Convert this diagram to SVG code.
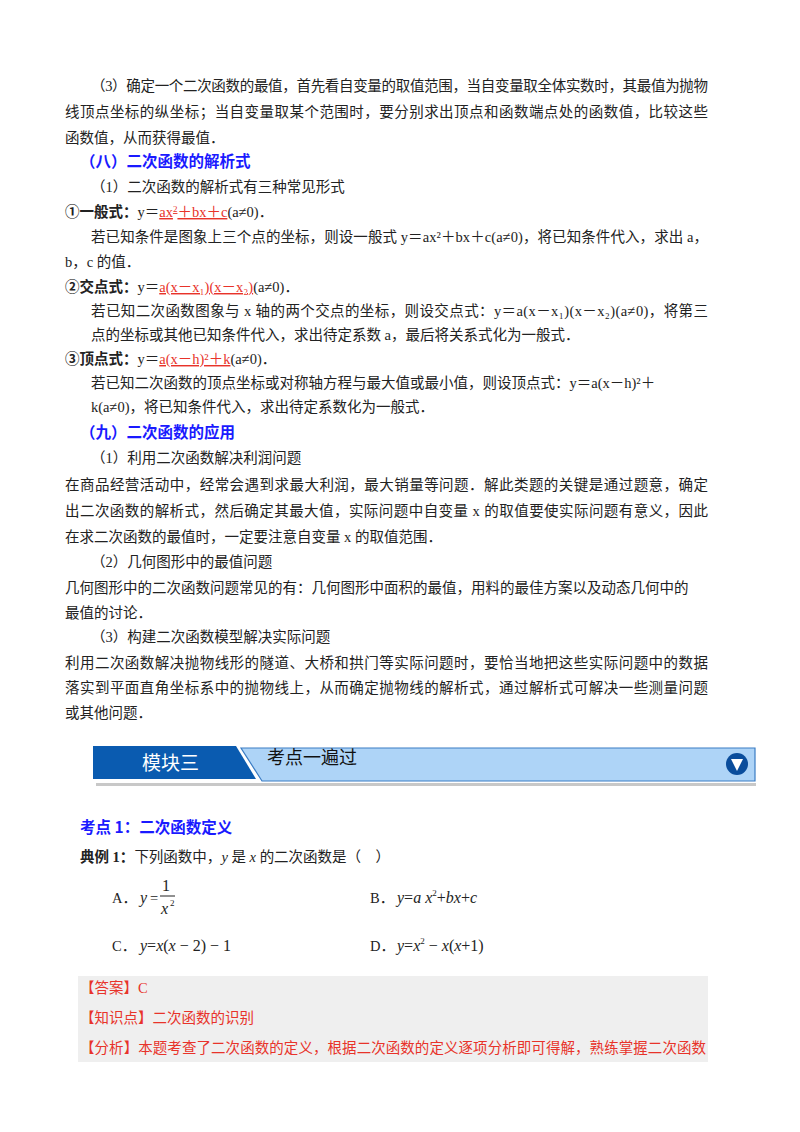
<svg xmlns="http://www.w3.org/2000/svg" width="800" height="1132" viewBox="0 0 800 1132">
<style>
text{font-family:"Liberation Serif","Noto Sans CJK SC",serif;font-size:14.5px;fill:#222}
.h{fill:#1a1aff;font-weight:bold;font-size:15.5px;font-family:"Noto Sans CJK SC",sans-serif}
.b{font-weight:bold}
.r{fill:#e8332a}
.m{font-family:"Liberation Serif",serif;font-style:italic;font-size:16px}
.u{text-decoration:underline}
</style>
<rect width="800" height="1132" fill="#fff"/>
<g id="text-top">
<text x="91" y="91" textLength="617" lengthAdjust="spacing">（3）确定一个二次函数的最值，首先看自变量的取值范围，当自变量取全体实数时，其最值为抛物</text>
<text x="65" y="117" textLength="643" lengthAdjust="spacing">线顶点坐标的纵坐标；当自变量取某个范围时，要分别求出顶点和函数端点处的函数值，比较这些</text>
<text x="65" y="143">函数值，从而获得最值．</text>
<text class="h" x="80" y="167">（八）二次函数的解析式</text>
<text x="91" y="192">（1）二次函数的解析式有三种常见形式</text>
<text x="65" y="217"><tspan class="b">①一般式：</tspan>y＝<tspan class="r u">ax<tspan dy="-5" font-size="9">2</tspan><tspan dy="5">＋bx＋c</tspan></tspan>(a≠0)．</text>
<text x="91" y="242" textLength="617" lengthAdjust="spacing">若已知条件是图象上三个点的坐标，则设一般式 y＝ax²＋bx＋c(a≠0)，将已知条件代入，求出 a，</text>
<text x="65" y="267">b，c 的值．</text>
<text x="65" y="292"><tspan class="b">②交点式：</tspan>y＝<tspan class="r u">a(x－x₁)(x－x₂)</tspan>(a≠0)．</text>
<text x="91" y="316" textLength="617" lengthAdjust="spacing">若已知二次函数图象与 x 轴的两个交点的坐标，则设交点式：y＝a(x－x₁)(x－x₂)(a≠0)，将第三</text>
<text x="91" y="340">点的坐标或其他已知条件代入，求出待定系数 a，最后将关系式化为一般式．</text>
<text x="65" y="364"><tspan class="b">③顶点式：</tspan>y＝<tspan class="r u">a(x－h)²＋k</tspan>(a≠0)．</text>
<text x="91" y="388">若已知二次函数的顶点坐标或对称轴方程与最大值或最小值，则设顶点式：y＝a(x－h)²＋</text>
<text x="91" y="412">k(a≠0)，将已知条件代入，求出待定系数化为一般式．</text>
<text class="h" x="80" y="438">（九）二次函数的应用</text>
<text x="91" y="463">（1）利用二次函数解决利润问题</text>
<text x="65" y="490" textLength="643" lengthAdjust="spacing">在商品经营活动中，经常会遇到求最大利润，最大销量等问题．解此类题的关键是通过题意，确定</text>
<text x="65" y="516" textLength="643" lengthAdjust="spacing">出二次函数的解析式，然后确定其最大值，实际问题中自变量 x 的取值要使实际问题有意义，因此</text>
<text x="65" y="542">在求二次函数的最值时，一定要注意自变量 x 的取值范围．</text>
<text x="91" y="567">（2）几何图形中的最值问题</text>
<text x="65" y="593">几何图形中的二次函数问题常见的有：几何图形中面积的最值，用料的最佳方案以及动态几何中的</text>
<text x="65" y="618">最值的讨论．</text>
<text x="91" y="642">（3）构建二次函数模型解决实际问题</text>
<text x="65" y="668" textLength="643" lengthAdjust="spacing">利用二次函数解决抛物线形的隧道、大桥和拱门等实际问题时，要恰当地把这些实际问题中的数据</text>
<text x="65" y="693" textLength="643" lengthAdjust="spacing">落实到平面直角坐标系中的抛物线上，从而确定抛物线的解析式，通过解析式可解决一些测量问题</text>
<text x="65" y="718">或其他问题．</text>
</g>
<g id="banner">
<rect x="96" y="783" width="660" height="3" fill="#c8c8c8"/>
<polygon points="241,748 755,748 755,781 262,781" fill="#aed4f7" stroke="#3a7cc4" stroke-width="1.2"/>
<polygon points="93,746 236,746 256,779 93,779" fill="#0a5bb0"/>
<text x="142" y="770" style="font-family:'Noto Sans CJK SC',sans-serif;font-size:19px;fill:#fff">模块三</text>
<text x="267" y="764" style="font-family:'Noto Sans CJK SC',sans-serif;font-size:18px;fill:#111">考点一遍过</text>
<circle cx="737" cy="764" r="11" fill="#0a4d9c"/>
<polygon points="731,759 743,759 737,771" fill="#fff"/>
</g>
<g id="example">
<text class="h" x="80" y="833">考点 1：二次函数定义</text>
<text x="80" y="862"><tspan class="b">典例 1：</tspan>下列函数中，<tspan font-style="italic">y</tspan> 是 <tspan font-style="italic">x</tspan> 的二次函数是（　）</text>
<text x="112" y="903">A．</text>
<text class="m" x="140" y="903">y</text><text x="150" y="903">=</text>
<text x="162" y="891" style="font-size:16px">1</text>
<line x1="160" y1="896" x2="175" y2="896" stroke="#222" stroke-width="1"/>
<text class="m" x="161" y="914">x</text><text x="170" y="906" style="font-size:9px">2</text>
<text x="370" y="903">B．</text>
<text class="m" x="397" y="903">y<tspan font-style="normal">=</tspan>a x<tspan dy="-7" font-size="9" font-style="normal">2</tspan><tspan dy="7" font-style="normal">+</tspan>bx<tspan font-style="normal">+</tspan>c</text>
<text x="112" y="951">C．</text>
<text class="m" x="140" y="951">y<tspan font-style="normal">=</tspan>x<tspan font-style="normal">(</tspan>x<tspan font-style="normal"> − 2) − 1</tspan></text>
<text x="370" y="951">D．</text>
<text class="m" x="397" y="951">y<tspan font-style="normal">=</tspan>x<tspan dy="-7" font-size="9" font-style="normal">2</tspan><tspan dy="7" font-style="normal"> − </tspan>x<tspan font-style="normal">(</tspan>x<tspan font-style="normal">+1)</tspan></text>
</g>
<g id="answer">
<rect x="78" y="976" width="630" height="86" fill="#efefef"/>
<text class="r" x="80" y="993">【答案】C</text>
<text class="r" x="80" y="1023">【知识点】二次函数的识别</text>
<text class="r" x="80" y="1053" textLength="626" lengthAdjust="spacing">【分析】本题考查了二次函数的定义，根据二次函数的定义逐项分析即可得解，熟练掌握二次函数</text>
</g>
</svg>
